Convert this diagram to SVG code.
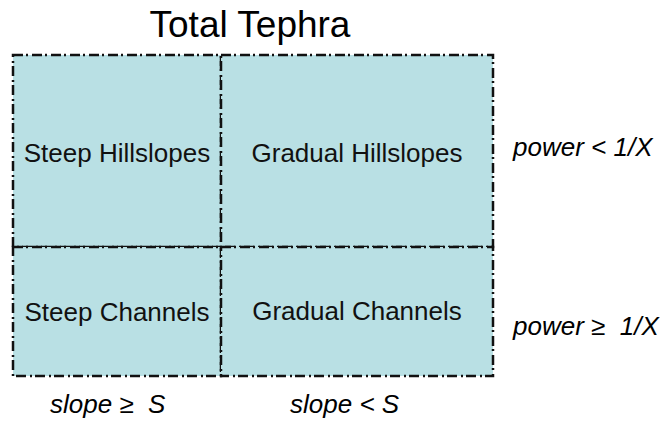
<svg xmlns="http://www.w3.org/2000/svg" width="662" height="421" viewBox="0 0 662 421">
  <style>
    .cell rect { fill: #b9e0e4; stroke: #111; stroke-width: 2.5; stroke-dasharray: 10 3 2 4; }
    .label { font-family: "Liberation Sans", Arial, sans-serif; font-size: 26px; fill: #111; text-anchor: middle; }
    .cond { font-family: "Liberation Sans", Arial, sans-serif; font-size: 26px; font-style: italic; fill: #000; white-space: pre; }
  </style>
  <rect width="662" height="421" fill="#fff"/>
  <text x="250" y="37" font-family="'Liberation Sans', Arial, sans-serif" font-size="37" text-anchor="middle" fill="#000">Total Tephra</text>

  <g id="steep-hillslopes" class="cell">
    <rect x="13" y="55" width="208" height="192"/>
    <text class="label" x="117" y="162">Steep Hillslopes</text>
  </g>
  <g id="gradual-hillslopes" class="cell">
    <rect x="221" y="55" width="272" height="192"/>
    <text class="label" x="357" y="162">Gradual Hillslopes</text>
  </g>
  <g id="steep-channels" class="cell">
    <rect x="13" y="247" width="208" height="129"/>
    <text class="label" x="117" y="321">Steep Channels</text>
  </g>
  <g id="gradual-channels" class="cell">
    <rect x="221" y="247" width="272" height="129"/>
    <text class="label" x="357" y="320">Gradual Channels</text>
  </g>

  <g id="conditions">
    <text class="cond" x="513" y="156">power &lt; 1/X</text>
    <text class="cond" x="513" y="335">power ≥  1/X</text>
    <text class="cond" x="50" y="413">slope ≥  S</text>
    <text class="cond" x="290" y="413">slope &lt; S</text>
  </g>
</svg>
